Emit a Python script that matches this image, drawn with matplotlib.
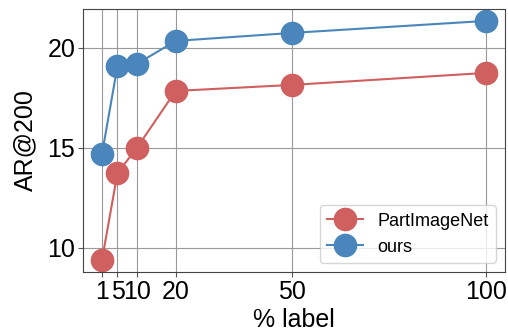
import matplotlib
matplotlib.use('Agg')
import matplotlib.pyplot as plt

plt.rcParams['font.family'] = ['Liberation Sans', 'DejaVu Sans']

pct = [1, 5, 10, 20, 50, 100]
partimagenet = [9.4, 13.75, 15.0, 17.85, 18.15, 18.75]
ours = [14.7, 19.1, 19.2, 20.35, 20.75, 21.35]

fig, ax = plt.subplots(figsize=(5.08, 3.32), dpi=100)
ax.plot(pct, partimagenet, marker='o', markersize=16, color='#d05f5f', lw=1.5, label='PartImageNet')
ax.plot(pct, ours, marker='o', markersize=16, color='#4a86bb', lw=1.5, label='ours')
ax.set_xticks(pct)
ax.set_yticks([10, 15, 20])
ax.tick_params(labelsize=18, color='#555555', pad=2)
for s in ax.spines.values():
    s.set_color('#444444')
ax.grid(True, color='#999999', lw=0.8)
ax.set_axisbelow(True)
ax.set_xlabel('% label', fontsize=18, labelpad=3)
ax.set_ylabel('AR@200', fontsize=18, labelpad=7)
ax.legend(loc='lower right', fontsize=13)
plt.subplots_adjust(left=0.163, right=0.994, top=0.973, bottom=0.181)
plt.savefig('out.png', dpi=100)
